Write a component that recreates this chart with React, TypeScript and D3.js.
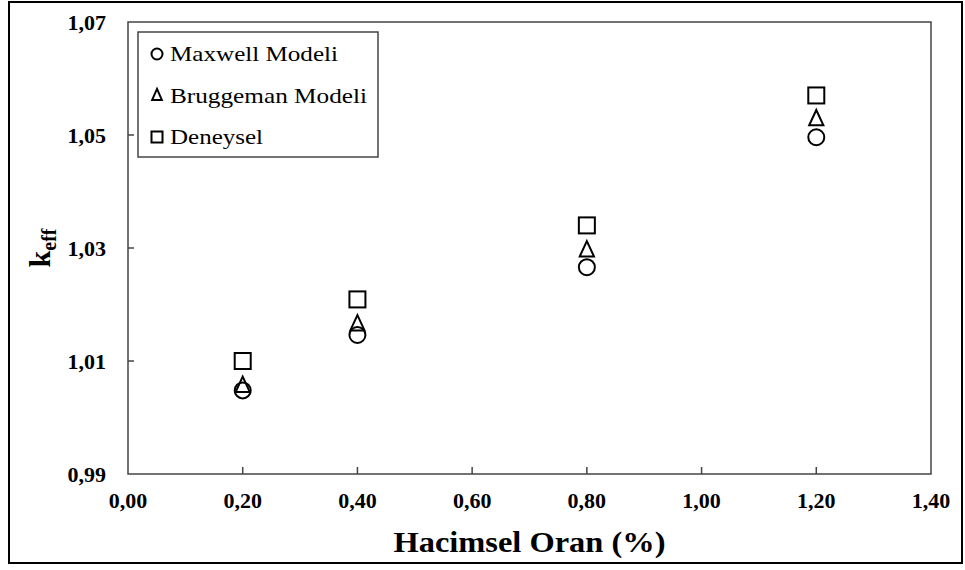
import React from "react";
import * as d3 from "d3";

const xValues = [0.2, 0.4, 0.8, 1.2];
const maxwell = [1.0048, 1.0146, 1.0266, 1.0496];
const bruggeman = [1.0056, 1.0165, 1.0296, 1.0528];
const deneysel = [1.01, 1.0209, 1.034, 1.057];
const xTicks = [0, 0.2, 0.4, 0.6, 0.8, 1.0, 1.2, 1.4];
const yTicks = [0.99, 1.01, 1.03, 1.05, 1.07];
const legendLabels = ["Maxwell Modeli", "Bruggeman Modeli", "Deneysel"];
const legendWidths = [168, 197, 93];

const W = 965;
const H = 570;
const left = 128;
const right = 931;
const top = 22;
const bottom = 474;
const font = "Liberation Serif";

const fmt = (v: number) => v.toFixed(2).replace(".", ",");

function Marker({ type, x, y, s }: { type: string; x: number; y: number; s: number }) {
  const sw = 2;
  if (type === "circle") return <circle cx={x} cy={y} r={s / 2 - 1} fill="none" stroke="#000" strokeWidth={sw} />;
  if (type === "square")
    return <rect x={x - s / 2 + 1} y={y - s / 2 + 1} width={s - 2} height={s - 2} fill="none" stroke="#000" strokeWidth={sw} />;
  const h = s * 0.85;
  const w = s * 0.9;
  const p = `M${x},${y - h * 0.6} L${x + w / 2 - 1},${y + h * 0.4} L${x - w / 2 + 1},${y + h * 0.4} Z`;
  return <path d={p} fill="none" stroke="#000" strokeWidth={sw} strokeLinejoin="miter" />;
}

export default function App() {
  const x = d3.scaleLinear().domain([0, 1.4]).range([left, right]);
  const y = d3.scaleLinear().domain([0.99, 1.07]).range([bottom, top]);
  const series = [
    { data: maxwell, type: "circle" },
    { data: bruggeman, type: "triangle" },
    { data: deneysel, type: "square" },
  ];
  return (
    <svg width={W} height={H} style={{ position: "absolute", left: 0, top: 0, background: "#fff", fontFamily: font }}>
      <rect x={0} y={0} width={W} height={H} fill="#fff" />
      <rect x={9} y={2} width={953} height={561} fill="none" stroke="#000" strokeWidth={2} />
      <rect x={left} y={top} width={right - left} height={bottom - top} fill="none" stroke="#444" strokeWidth={1.5} />
      {xTicks.slice(1, -1).map((t) => (
        <line key={"xt" + t} x1={x(t)} x2={x(t)} y1={bottom} y2={bottom - 7} stroke="#444" strokeWidth={1.5} />
      ))}
      {yTicks.slice(1, -1).map((t) => (
        <line key={"yt" + t} x1={left} x2={left + 6} y1={y(t)} y2={y(t)} stroke="#444" strokeWidth={1.5} />
      ))}
      {xTicks.map((t) => (
        <text key={"xl" + t} x={x(t)} y={508} textAnchor="middle" fontFamily={font} fontWeight="bold" fontSize={22}>
          {fmt(t)}
        </text>
      ))}
      {yTicks.map((t) => (
        <text key={"yl" + t} x={106} y={y(t)} dy="0.35em" textAnchor="end" fontFamily={font} fontWeight="bold" fontSize={22}>
          {fmt(t)}
        </text>
      ))}
      <text
        x={(left + right) / 2}
        y={552}
        textAnchor="middle"
        fontFamily={font}
        fontWeight="bold"
        fontSize={29}
        textLength={272}
        lengthAdjust="spacingAndGlyphs"
      >
        Hacimsel Oran (%)
      </text>
      <text transform={`translate(50, ${(top + bottom) / 2}) rotate(-90)`} textAnchor="middle" fontFamily={font} fontWeight="bold" fontSize={30}>
        k<tspan fontSize={20} dy={6}>eff</tspan>
      </text>
      {series.map((s) =>
        s.data.map((v, i) => <Marker key={s.type + i} type={s.type} x={x(xValues[i])} y={y(v)} s={18} />)
      )}
      <rect x={138} y={32} width={240} height={125} fill="#fff" stroke="#444" strokeWidth={1.5} />
      {legendLabels.map((l, i) => {
        const cy = 54 + i * 41.5;
        return (
          <g key={l}>
            <Marker type={series[i].type} x={157} y={cy} s={13} />
            <text
              x={170}
              y={cy + 7}
              fontFamily={font}
              fontSize={21}
              textLength={legendWidths[i]}
              lengthAdjust="spacingAndGlyphs"
            >
              {l}
            </text>
          </g>
        );
      })}
    </svg>
  );
}
